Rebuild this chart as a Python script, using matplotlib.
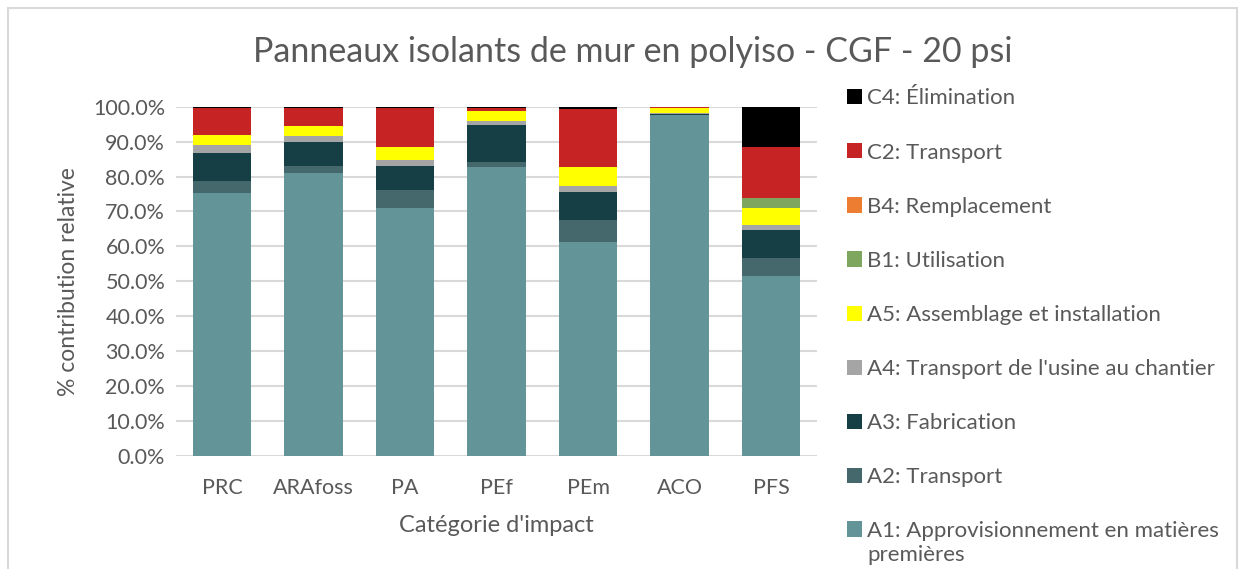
import numpy as np
import matplotlib
matplotlib.use('Agg')
import matplotlib.pyplot as plt
from matplotlib.patches import Patch, Rectangle
from matplotlib.ticker import PercentFormatter

plt.rcParams['font.family'] = ['Lato', 'DejaVu Sans']

#-------------------------------------------------------------
categories = ['PRC', 'ARAfoss', 'PA', 'PEf', 'PEm', 'ACO', 'PFS']

stages = ['A1: Approvisionnement en matières\npremières',
          'A2: Transport',
          'A3: Fabrication',
          "A4: Transport de l'usine au chantier",
          'A5: Assemblage et installation',
          'B1: Utilisation',
          'B4: Remplacement',
          'C2: Transport',
          'C4: Élimination']

# % contribution per stage, one value per category
a1 = [75.4, 80.9, 71.0, 82.7, 61.4, 97.5, 51.6]
a2 = [3.4, 2.2, 5.1, 1.5, 6.2, 0.1, 5.0]
a3 = [7.9, 6.7, 7.0, 10.6, 8.1, 0.4, 8.1]
a4 = [2.4, 1.7, 1.5, 1.2, 1.7, 0.1, 1.5]
a5 = [2.9, 2.9, 4.0, 2.9, 5.4, 1.6, 4.8]
b1 = [0.0, 0.0, 0.0, 0.0, 0.0, 0.0, 2.8]
b4 = [0.0, 0.0, 0.0, 0.0, 0.0, 0.0, 0.0]
c2 = [7.6, 5.2, 11.0, 0.7, 16.4, 0.4, 14.8]
c4 = [0.4, 0.4, 0.4, 0.4, 0.8, 0.0, 11.4]

colors = ['#639598', '#44686b', '#153f45', '#a5a5a5', '#ffff00',
          '#7ea65f', '#ed7d31', '#c62424', '#000000']

#-------------------------------------------------------------
fig = plt.figure(figsize=(12.45, 5.69), dpi=100)
ax = fig.add_axes([0.1416, 0.1986, 0.5145, 0.6139])

series = [a1, a2, a3, a4, a5, b1, b4, c2, c4]
x = np.arange(len(categories))
bottom = np.zeros(len(categories))
handles = []
for vals, lbl, col in zip(series, stages, colors):
    vals = np.array(vals)
    ax.bar(x, vals, 0.64, bottom=bottom, color=col, label=lbl, zorder=3)
    bottom += vals
    handles.append(Patch(facecolor=col, label=lbl))

txt_col = '#595959'
ax.set_xlim(-0.5, len(categories) - 0.5)
ax.set_ylim(0, 100)
ax.set_yticks(np.arange(0, 101, 10))
ax.yaxis.set_major_formatter(PercentFormatter(decimals=1))
ax.set_xticks(x)
ax.set_xticklabels(categories)
ax.tick_params(length=0, labelsize=15.5, labelcolor=txt_col)
ax.tick_params(axis='x', pad=16)
ax.tick_params(axis='y', pad=8)
ax.yaxis.grid(color='#d9d9d9', linewidth=1.5, zorder=0) #horizontal-grid
for s in ax.spines.values():
    s.set_visible(False)

ax.set_xlabel("Catégorie d'impact", fontsize=17, color=txt_col, labelpad=12)
ax.set_ylabel('% contribution relative', fontsize=16.5, color=txt_col, labelpad=10)
fig.text(0.508, 0.908, 'Panneaux isolants de mur en polyiso - CGF - 20 psi',
         ha='center', va='center', fontsize=24.5, color=txt_col)

leg = fig.legend(handles=handles[::-1], loc='upper left',
                 bbox_to_anchor=(0.6715, 0.864), frameon=False,
                 fontsize=16, handlelength=0.68, handleheight=0.68,
                 handletextpad=0.22, labelspacing=1.535, borderpad=0)
for t in leg.get_texts():
    t.set_color(txt_col)
# put the marker of the two-line entry next to its first line
try:
    rows = leg._legend_handle_box.get_children()[0].get_children()
    rows[-1].align = 'top'
except Exception:
    pass

# light chart border
fig.patches.append(Rectangle((8 / 1245, -0.05), 1229 / 1245, 1.0 - 8 / 569 + 0.05,
                             transform=fig.transFigure, fill=False,
                             edgecolor='#d9d9d9', linewidth=1.5))

plt.savefig('out.png', dpi=100)
